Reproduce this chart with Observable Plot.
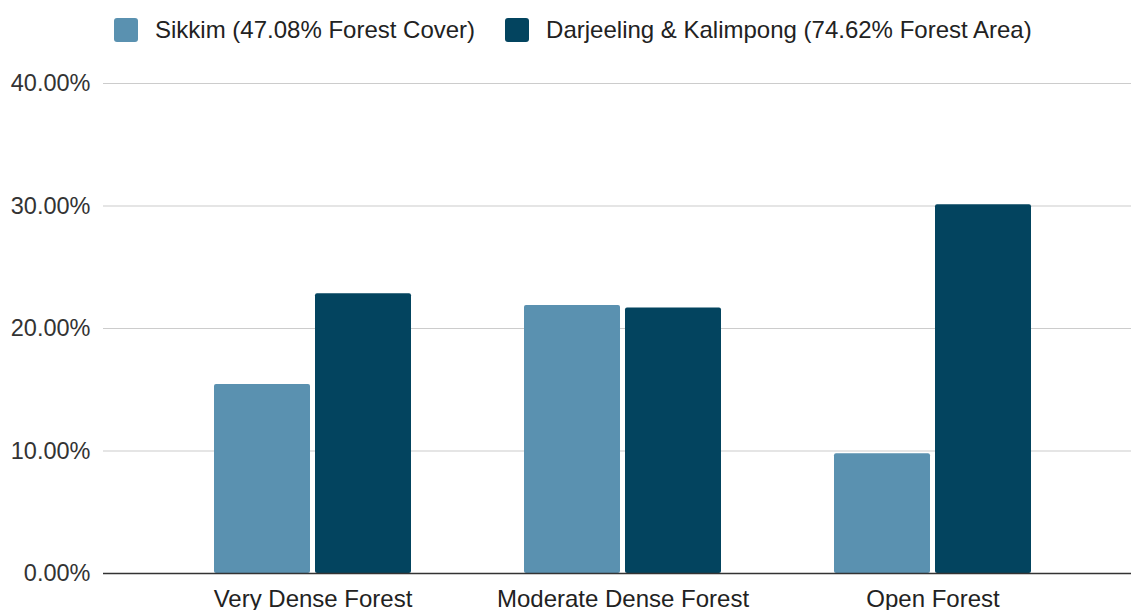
<!DOCTYPE html>
<html>
<head>
<meta charset="utf-8">
<script src="https://cdn.jsdelivr.net/npm/d3@7"></script>
<script src="https://cdn.jsdelivr.net/npm/@observablehq/plot@0.6"></script>
<style>
  html, body { margin: 0; padding: 0; background: #fff; }
  body { width: 1131px; height: 610px; overflow: hidden; font-family: "Liberation Sans", Arial, sans-serif; }
  #legend { height: 60px; display: flex; align-items: center; padding-left: 114px; box-sizing: border-box; }
  .item { display: flex; align-items: center; margin-right: 30px; font-size: 24px; color: #222; }
  .sw { width: 24px; height: 24px; border-radius: 3px; margin-right: 17px; }
</style>
</head>
<body>
<div id="legend"></div>
<div id="chart"></div>
<script>
const categories = ["Very Dense Forest", "Moderate Dense Forest", "Open Forest"];
const seriesNames = ["Sikkim (47.08% Forest Cover)", "Darjeeling & Kalimpong (74.62% Forest Area)"];
const sikkim = [15.43, 21.88, 9.77];
const darjeeling = [22.83, 21.68, 30.11];
const colors = ["#5a91b0", "#03445f"];
const yTicks = [0, 10, 20, 30, 40];

const sikkimData = categories.map((c, i) => ({category: c, series: seriesNames[0], value: sikkim[i]}));
const darjData = categories.map((c, i) => ({category: c, series: seriesNames[1], value: darjeeling[i]}));

const legend = d3.select("#legend");
seriesNames.forEach((s, i) => {
  const it = legend.append("div").attr("class", "item");
  it.append("div").attr("class", "sw").style("background", colors[i]);
  it.append("span").text(s);
});

// band width 197 px; each bar 96 px with a 5 px gap between the pair
const barInset = 101;

const chart = Plot.plot({
  width: 1131,
  height: 550,
  marginTop: 23,
  marginBottom: 37,
  marginLeft: 103,
  marginRight: 0,
  style: {fontFamily: "'Liberation Sans', Arial, sans-serif", fontSize: "20px", color: "#333", background: "transparent", overflow: "visible"},
  x: {domain: categories, paddingInner: 0.3645, paddingOuter: 0.34, align: 0.524, label: null},
  y: {domain: [0, 40], label: null},
  color: {domain: seriesNames, range: colors},
  marks: [
    Plot.ruleY(yTicks.filter(d => d > 0), {stroke: "#cccccc", strokeWidth: 1.2}),
    Plot.axisY(yTicks, {tickSize: 0, tickPadding: 13, fontSize: 23.5, fill: "#333", tickFormat: d => d.toFixed(2) + "%", label: null}),
    Plot.barY(sikkimData, {x: "category", y: "value", fill: "series", insetRight: barInset, rx: 2}),
    Plot.barY(darjData, {x: "category", y: "value", fill: "series", insetLeft: barInset, rx: 2}),
    Plot.ruleY([0], {stroke: "#333", strokeWidth: 1.6}),
    Plot.axisX({tickSize: 0, tickPadding: 16, fontSize: 24, fill: "#222", label: null})
  ]
});
document.getElementById("chart").append(chart);
</script>
</body>
</html>
